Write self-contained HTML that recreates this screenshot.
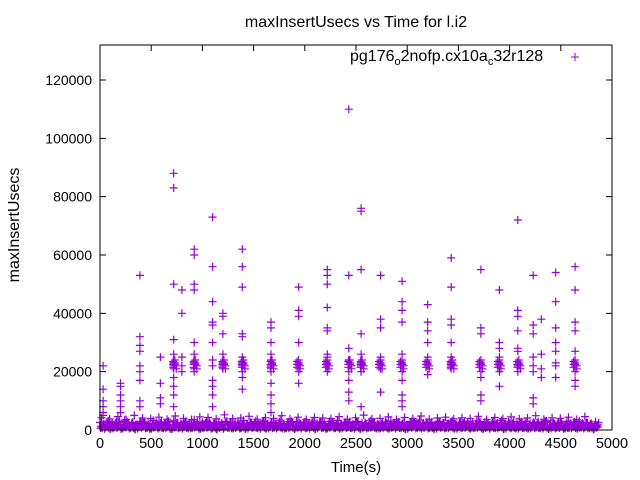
<!DOCTYPE html>
<html><head><meta charset="utf-8"><style>
html,body{margin:0;padding:0;background:#fff;}
svg{display:block;font-family:"Liberation Sans",sans-serif;}
</style></head><body>
<svg id="chart" width="640" height="480">
<rect width="640" height="480" fill="#fff"/>
<text x="356" y="27" font-size="16" text-anchor="middle">maxInsertUsecs vs Time for l.i2</text>
<text x="356" y="472" font-size="15" text-anchor="middle">Time(s)</text>
<text transform="translate(19,225) rotate(-90)" font-size="16" text-anchor="middle">maxInsertUsecs</text>
<g id="axes"></g>
<g id="points"></g>
<rect x="100" y="45" width="512" height="385" fill="none" stroke="#000" stroke-width="1"/>
<g>
<text x="350" y="61" font-size="16">pg176<tspan font-size="11" dy="4">o</tspan><tspan dy="-4">2nofp.cx10a</tspan><tspan font-size="11" dy="4">c</tspan><tspan dy="-4">32r128</tspan></text>
<path d="M571 57h8M575 53v8" stroke="#9400d3" stroke-width="1"/>
</g>
</svg>
<script>
const xTicks=[0,500,1000,1500,2000,2500,3000,3500,4000,4500,5000];
const yTicks=[0,20000,40000,60000,80000,100000,120000];
const clusterX=[30,200,390,590,720,800,920,1100,1200,1390,1670,1940,2220,2430,2550,2740,2950,3200,3430,3720,3900,4080,4230,4310,4450,4640];
const clusterY=[
[22000,14000,10000,8000,6000,5000],
[16000,15000,12000,10000,8000,6000],
[53000,32000,29000,27000,22000,20000,17000,10000,8000],
[25000,16000,11000,9000],
[88000,83000,50000,31000,26000,23000,22000,21000,18000,15000,12000,8000],
[48000,40000,25000,22000,20000],
[62000,60000,50000,48000,30000,26000,23000,21000,20000],
[73000,56000,44000,37000,36000,30000,24000,22000,17000,15000,12000,8000],
[40000,39000,33000,26000,23000,22000,21000],
[62000,56000,49000,33000,32000,25000,23000,22000,20000,18000,14000],
[37000,35000,30000,26000,24000,22000,21000,20000,16000,12000,9000,6000],
[49000,41000,39000,30000,22000,21000,20000,16000],
[55000,53000,50000,42000,35000,34000,26000,25000,23000,22000,20000],
[110000,53000,28000,24000,20000,17000,13000,10000],
[76000,75000,55000,33000,26000,23000,22000,20000,8000],
[53000,38000,35000,25000,22000,21000,13000],
[51000,44000,41000,37000,26000,24000,22000,20000,17000,12000,10000,8000],
[43000,37000,34000,30000,25000,24000,22000,19000],
[59000,49000,38000,36000,30000,25000,23000,22000,21000],
[55000,35000,33000,22000,20000,18000,12000,10000],
[48000,30000,28000,25000,22000,20000,15000],
[72000,41000,39000,34000,28000,27000,22000,20000],
[53000,36000,33000,25000,22000,20000,11000,9000],
[38000,26000,21000,18000],
[54000,44000,35000,30000,27000,23000,22000,18000],
[56000,48000,37000,34000,27000,22000,20000,17000,15000]];
const denseX=[730,930,1210,1400,1680,1940,2220,2440,2560,2740,2950,3200,3440,3720,3900,4090,4640];
const denseY=[23500,22500,22000,21500,24000,21000,22500,23000];
const bandA=[2600,1800,3100,2200,2900,1500,3400,2100,2700,1900,3000,2400,1600,3300,2000,2800,2300,1700,3200,2500,1900,2900,2200,3500,1800,2600,3100,2000,2400,2800,1600,3000,2300,2700,1900,3300,2100,2500,2900,1700,3200,2200,2600,2000,3400,1800,2800,2400,3000,2100,2700,1900,3100,2300,2500,1600,2900,2200,3300,2000,2600,2800,1800,3000,2400,2100,3200,2700,1900,2500,2300,3100,2000,2800,2600,1700,2900,2200,3400,2400,2100,2700,1900,3000,2500,2300,3200,1800,2600,2900,2000,2400,3100,2200,2700,1600,2800,2500,3300,2100,2300,2900,1900,2600,3000,2200,2400,2800,2000,3200,2500,2100,2700,1800,2900,2300,2600,3100,2000,2400,2200,2800];
const bandB=[600,1100,300,900,1400,500,1200,800,200,1000,1300,700,400,1100,900,600,1500,300,1000,800,1200,500,700,1300,400,900,1100,600,200,1000,1400,800,500,1200,700,300,1100,900,600,1300,400,1000,800,1200,500,700,1400,300,900,1100,600,1000,200,1300,800,500,1200,700,400,1100,900,600,1500,300,1000,800,1200,500,700,1300,400,900,1100,600,200,1000,1400,800,500,1200,700,300,1100,900,600,1300,400,1000,800,1200,500,700,1400,300,900,1100,600,1000,200,1300,800,500,1200,700,400,1100,900,600,1500,300,1000,800,1200,500,700,1300,400,900,1100,600,200,1000];
const bandC=[4200,3800,4600,3600,5000,4100,3900,4400,3700,4800,4000,3600,4500,4300,3800,5200,3900,4100,4700,3700,4200,4000,4900,3800,4400,3600,4300,4100,3900,4600,3700,4200,5100,3800,4000,4500,3600,4300,3900,4800,3700,4100,4400,3800,4200,4000,4700,3600,4300,3900,4500,3800,4100,4900,3700,4200,4000,4400,3600,4600];
const X0=100,X1=612,Y0=430,Y1=45,XMAX=5000,YMAX=132000;
const sx=v=>X0+v/XMAX*(X1-X0);
const sy=v=>Y0-v/YMAX*(Y0-Y1);
const NS='http://www.w3.org/2000/svg';
const axes=document.getElementById('axes'),pts=document.getElementById('points');
function mk(tag,attrs,parent){const e=document.createElementNS(NS,tag);for(const k in attrs)e.setAttribute(k,attrs[k]);parent.appendChild(e);return e;}
xTicks.forEach(t=>{const x=sx(t);
 const l=mk('path',{d:`M${x} ${Y0}v-6M${x} ${Y1}v6`,stroke:'#000'},axes);
 
 
 const tx=mk('text',{x:x,y:Y0+18,'font-size':14.5,'text-anchor':'middle'},axes);tx.textContent=t;
 
 
});
yTicks.forEach(t=>{const y=sy(t);
 const l=mk('path',{d:`M${X0} ${y}h6M${X1} ${y}h-6`,stroke:'#000'},axes);
 
 
 const tx=mk('text',{x:X0-8,y:y+5,'font-size':14,'text-anchor':'end'},axes);tx.textContent=t;
 
 
});
let d='';
function cross(xv,yv){const x=sx(xv),y=sy(yv);d+=`M${(x-4).toFixed(1)} ${y.toFixed(1)}h8M${x.toFixed(1)} ${(y-4).toFixed(1)}v8`;}
bandA.forEach((v,i)=>cross(i*40,v));
bandB.forEach((v,i)=>cross(20+i*40,v));
bandA.forEach((v,i)=>cross(10+i*40,v*0.5));
bandB.forEach((v,i)=>cross(30+i*40,v+1500));
bandA.forEach((v,i)=>cross(5+i*40,v*0.25));
bandB.forEach((v,i)=>cross(25+i*40,v*1.8));
bandC.forEach((v,i)=>cross(15+i*80,v));
clusterX.forEach((cx,i)=>clusterY[i].forEach(v=>cross(cx,v)));
denseX.forEach((cx,i)=>denseY.forEach((v,j)=>cross(cx+(j%3-1)*15,v)));
const p=mk('path',{d:d,stroke:'#9400d3','stroke-width':1.2,fill:'none'},pts);


</script>
</body></html>
